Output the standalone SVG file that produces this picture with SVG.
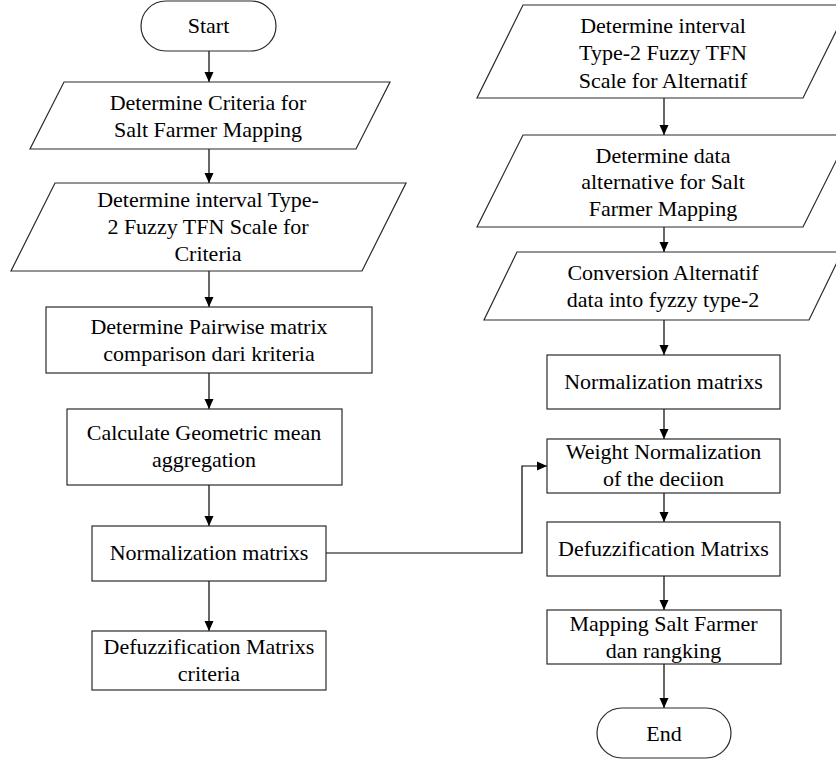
<svg xmlns="http://www.w3.org/2000/svg" width="836" height="759" viewBox="0 0 836 759">
  <style>
    .shape { fill: #ffffff; stroke: #2a2a2a; stroke-width: 1.2; }
    .conn { fill: none; stroke: #000000; stroke-width: 1.2; }
    text { font-family: "Liberation Serif", "Times New Roman", serif; font-size: 22px; fill: #000000; text-anchor: middle; }
  </style>
  <defs>
    <marker id="arrow" markerUnits="userSpaceOnUse" markerWidth="10" markerHeight="10" viewBox="0 0 10 10" refX="10" refY="5" orient="auto">
      <path d="M0,0.5 L10,5 L0,9.5 Z" fill="#000000"/>
    </marker>
  </defs>
  <rect x="0" y="0" width="836" height="759" fill="#ffffff"/>

  <g id="connectors">
    <line class="conn" x1="209" y1="51" x2="209" y2="82" marker-end="url(#arrow)"/>
    <line class="conn" x1="209" y1="149" x2="209" y2="183" marker-end="url(#arrow)"/>
    <line class="conn" x1="209" y1="271" x2="209" y2="307" marker-end="url(#arrow)"/>
    <line class="conn" x1="209" y1="373" x2="209" y2="409" marker-end="url(#arrow)"/>
    <line class="conn" x1="209" y1="485" x2="209" y2="526" marker-end="url(#arrow)"/>
    <line class="conn" x1="209" y1="581" x2="209" y2="631" marker-end="url(#arrow)"/>
    <polyline class="conn" points="326,553 522,553 522,466 547,466" marker-end="url(#arrow)"/>
    <line class="conn" x1="664" y1="98" x2="664" y2="135" marker-end="url(#arrow)"/>
    <line class="conn" x1="664" y1="227" x2="664" y2="252" marker-end="url(#arrow)"/>
    <line class="conn" x1="664" y1="320" x2="664" y2="355" marker-end="url(#arrow)"/>
    <line class="conn" x1="664" y1="409" x2="664" y2="439" marker-end="url(#arrow)"/>
    <line class="conn" x1="664" y1="493" x2="664" y2="522" marker-end="url(#arrow)"/>
    <line class="conn" x1="664" y1="576" x2="664" y2="610" marker-end="url(#arrow)"/>
    <line class="conn" x1="664" y1="664" x2="664" y2="708" marker-end="url(#arrow)"/>
  </g>

  <g id="start">
    <rect class="shape" x="141" y="1" width="135" height="50" rx="25" ry="25"/>
    <text x="208.5" y="32.5">Start</text>
  </g>

  <g id="criteria">
    <polygon class="shape" points="64,82 390,82 356,149 30,149"/>
    <text x="208" y="109.5">Determine Criteria for</text>
    <text x="208" y="136.5">Salt Farmer Mapping</text>
  </g>

  <g id="scale-criteria">
    <polygon class="shape" points="55,183 406,183 362,271 11,271"/>
    <text x="208" y="206.5">Determine interval Type-</text>
    <text x="208" y="233.5">2 Fuzzy TFN Scale for</text>
    <text x="208" y="260.5">Criteria</text>
  </g>

  <g id="pairwise">
    <rect class="shape" x="46" y="307" width="326" height="66"/>
    <text x="209" y="334">Determine Pairwise matrix</text>
    <text x="209" y="360.5">comparison dari kriteria</text>
  </g>

  <g id="geometric">
    <rect class="shape" x="67" y="409" width="275" height="76"/>
    <text x="204" y="440">Calculate Geometric mean</text>
    <text x="204" y="466.5">aggregation</text>
  </g>

  <g id="normalization-left">
    <rect class="shape" x="92" y="526" width="234" height="55"/>
    <text x="209" y="560">Normalization matrixs</text>
  </g>

  <g id="defuzz-criteria">
    <rect class="shape" x="92" y="631" width="234" height="59"/>
    <text x="209" y="654">Defuzzification Matrixs</text>
    <text x="209" y="680.5">criteria</text>
  </g>

  <g id="scale-alternatif">
    <polygon class="shape" points="523,5 849,5 803,98 477,98"/>
    <text x="663" y="32.5">Determine interval</text>
    <text x="663" y="60">Type-2 Fuzzy TFN</text>
    <text x="663" y="87.5">Scale for Alternatif</text>
  </g>

  <g id="data-alternative">
    <polygon class="shape" points="523,135 849,135 803,227 477,227"/>
    <text x="663" y="162.5">Determine data</text>
    <text x="663" y="189">alternative for Salt</text>
    <text x="663" y="215.5">Farmer Mapping</text>
  </g>

  <g id="conversion">
    <polygon class="shape" points="517,252 842,252 809,320 484,320"/>
    <text x="663" y="279.5">Conversion Alternatif</text>
    <text x="663" y="306.5">data into fyzzy type-2</text>
  </g>

  <g id="normalization-right">
    <rect class="shape" x="547" y="355" width="233" height="54"/>
    <text x="663.5" y="389">Normalization matrixs</text>
  </g>

  <g id="weight">
    <rect class="shape" x="547" y="439" width="233" height="54"/>
    <text x="663.5" y="459">Weight Normalization</text>
    <text x="663.5" y="485.5">of the deciion</text>
  </g>

  <g id="defuzz-right">
    <rect class="shape" x="547" y="522" width="233" height="54"/>
    <text x="663.5" y="556">Defuzzification Matrixs</text>
  </g>

  <g id="mapping">
    <rect class="shape" x="547" y="610" width="234" height="54"/>
    <text x="663.5" y="631">Mapping Salt Farmer</text>
    <text x="663.5" y="657.5">dan rangking</text>
  </g>

  <g id="end">
    <rect class="shape" x="597" y="708" width="134" height="50" rx="25" ry="25"/>
    <text x="664" y="740.5">End</text>
  </g>
</svg>
